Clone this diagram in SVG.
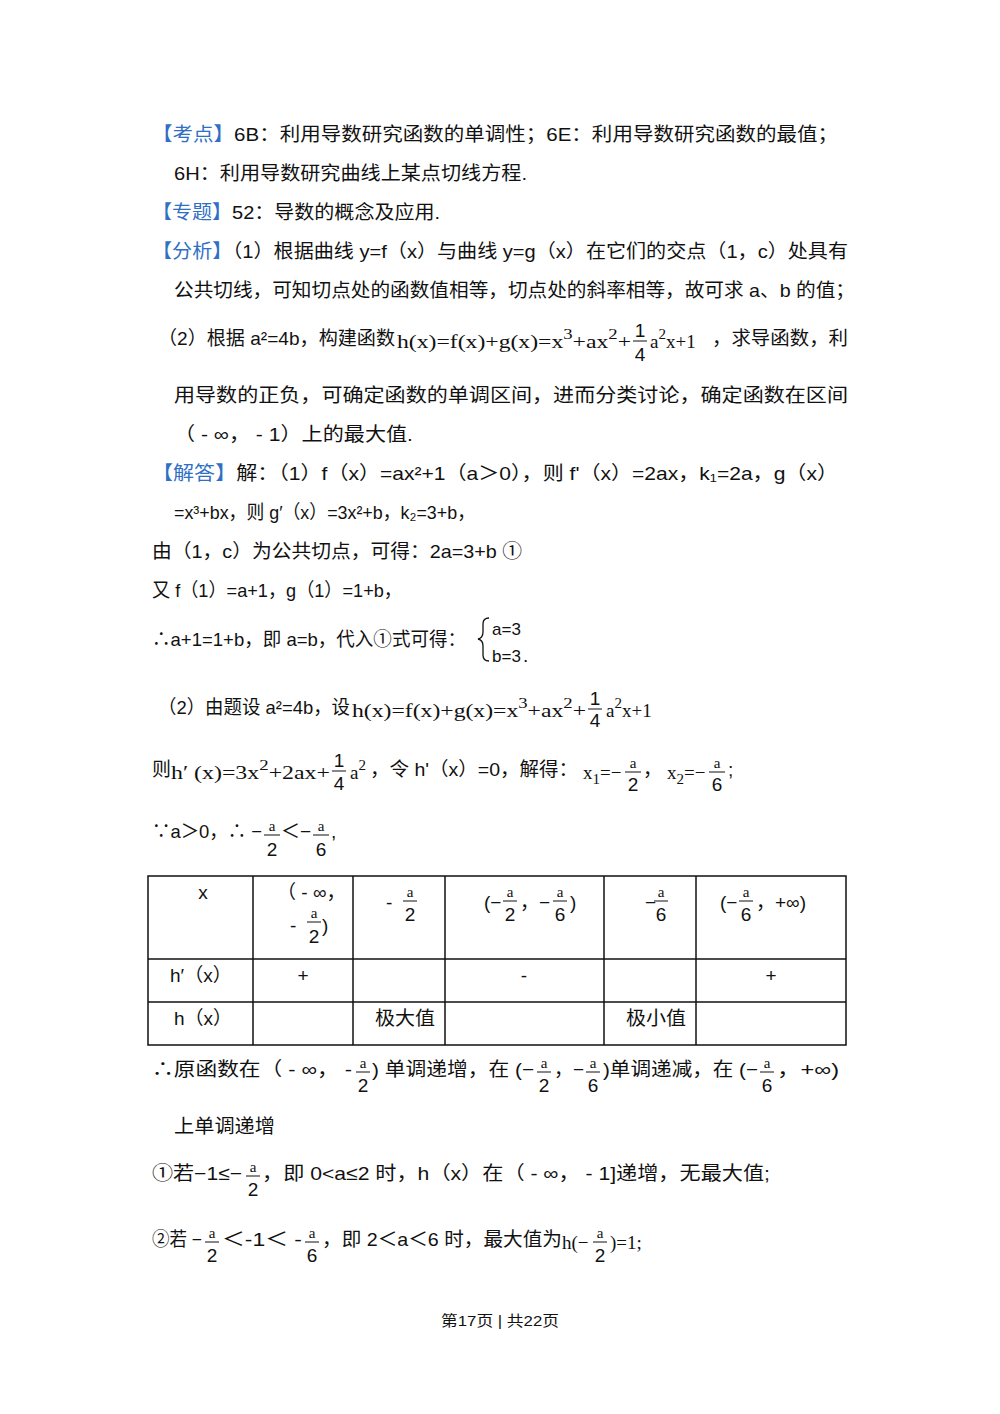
<svg xmlns="http://www.w3.org/2000/svg" width="1000" height="1414" viewBox="0 0 1000 1414">
<style>
text{font-family:"Liberation Sans","Noto Sans CJK SC",sans-serif;font-size:19px;fill:#111}
.b{fill:#2f6fc4}
.m{font-family:"Liberation Serif","Noto Sans CJK SC",serif;font-size:19px}
.s{font-size:15px;font-family:"Liberation Serif",serif}
.c{text-anchor:middle}
.fl{stroke:#111;stroke-width:1}
.tb{stroke:#111;stroke-width:1.5;fill:none}
</style>
<rect width="1000" height="1414" fill="#fff"/>
<text x="152" y="141" textLength="686" lengthAdjust="spacingAndGlyphs"><tspan class="b">【考点】</tspan>6B：利用导数研究函数的单调性；6E：利用导数研究函数的最值；</text>
<text x="174" y="180" textLength="353" lengthAdjust="spacingAndGlyphs">6H：利用导数研究曲线上某点切线方程.</text>
<text x="152" y="219" textLength="288" lengthAdjust="spacingAndGlyphs"><tspan class="b">【专题】</tspan>52：导数的概念及应用.</text>
<text x="152" y="258" textLength="696" lengthAdjust="spacingAndGlyphs"><tspan class="b">【分析】</tspan>（1）根据曲线 y=f（x）与曲线 y=g（x）在它们的交点（1，c）处具有</text>
<text x="174" y="297" textLength="681" lengthAdjust="spacingAndGlyphs">公共切线，可知切点处的函数值相等，切点处的斜率相等，故可求 a、b 的值；</text>
<text x="158" y="345" textLength="237" lengthAdjust="spacingAndGlyphs">（2）根据 a²=4b，构建函数</text>
<text x="397" y="348" class="m" textLength="234" lengthAdjust="spacingAndGlyphs">h(x)=f(x)+g(x)=x<tspan class="s" dy="-9">3</tspan><tspan dy="9">+ax</tspan><tspan class="s" dy="-9">2</tspan><tspan dy="9">+</tspan></text>
<text x="640" y="337" class="c">1</text><line x1="633" y1="341" x2="647" y2="341" class="fl"/><text x="640" y="361" class="c">4</text>
<text x="650" y="348" class="m">a<tspan class="s" dy="-9">2</tspan><tspan dy="9">x+1</tspan></text>
<text x="712" y="345" textLength="136" lengthAdjust="spacingAndGlyphs">，求导函数，利</text>
<text x="174" y="402" textLength="674" lengthAdjust="spacingAndGlyphs">用导数的正负，可确定函数的单调区间，进而分类讨论，确定函数在区间</text>
<text x="174" y="441" textLength="239" lengthAdjust="spacingAndGlyphs">（ - ∞， - 1）上的最大值.</text>
<text x="152" y="480" textLength="686" lengthAdjust="spacingAndGlyphs"><tspan class="b">【解答】</tspan>解：（1）f（x）=ax²+1（a＞0），则 f'（x）=2ax，k₁=2a，g（x）</text>
<text x="174" y="519" textLength="301" lengthAdjust="spacingAndGlyphs">=x³+bx，则 g′（x）=3x²+b，k₂=3+b，</text>
<text x="152" y="558" textLength="370" lengthAdjust="spacingAndGlyphs">由（1，c）为公共切点，可得：2a=3+b ①</text>
<text x="152" y="597" textLength="250" lengthAdjust="spacingAndGlyphs">又 f（1）=a+1，g（1）=1+b，</text>
<text x="152" y="646" textLength="314" lengthAdjust="spacingAndGlyphs">∴a+1=1+b，即 a=b，代入①式可得：</text>
<path d="M489 618 Q483 618 483 624 L483 632 Q483 638 478 639 Q483 640 483 646 L483 655 Q483 661 489 661" fill="none" stroke="#111" stroke-width="1.3"/>
<text x="492" y="635" style="font-size:17px">a=3</text><text x="492" y="662" style="font-size:17px">b=3</text><text x="523" y="662">.</text>
<text x="158" y="714" textLength="192" lengthAdjust="spacingAndGlyphs">（2）由题设 a²=4b，设</text>
<text x="352" y="717" class="m" textLength="234" lengthAdjust="spacingAndGlyphs">h(x)=f(x)+g(x)=x<tspan class="s" dy="-9">3</tspan><tspan dy="9">+ax</tspan><tspan class="s" dy="-9">2</tspan><tspan dy="9">+</tspan></text>
<text x="595" y="705" class="c">1</text><line x1="588" y1="709" x2="602" y2="709" class="fl"/><text x="595" y="727" class="c">4</text>
<text x="606" y="717" class="m">a<tspan class="s" dy="-9">2</tspan><tspan dy="9">x+1</tspan></text>
<text x="152" y="776">则</text>
<text x="171" y="779" class="m" textLength="159" lengthAdjust="spacingAndGlyphs">h′ (x)=3x<tspan class="s" dy="-9">2</tspan><tspan dy="9">+2ax+</tspan></text>
<text x="339" y="767" class="c">1</text><line x1="332" y1="771" x2="346" y2="771" class="fl"/><text x="339" y="790" class="c">4</text>
<text x="350" y="779" class="m">a<tspan class="s" dy="-9">2</tspan></text>
<text x="370" y="776" textLength="208" lengthAdjust="spacingAndGlyphs">，令 h'（x）=0，解得：</text>
<text x="583" y="779" class="m">x<tspan class="s" dy="5">1</tspan><tspan dy="-5">=−</tspan></text>
<text x="633" y="768" class="c s">a</text><line x1="625" y1="772" x2="641" y2="772" class="fl"/><text x="633" y="791" class="c">2</text>
<text x="643" y="776">，</text>
<text x="667" y="779" class="m">x<tspan class="s" dy="5">2</tspan><tspan dy="-5">=−</tspan></text>
<text x="717" y="768" class="c s">a</text><line x1="709" y1="772" x2="725" y2="772" class="fl"/><text x="717" y="791" class="c">6</text>
<text x="728" y="776">;</text>
<text x="152" y="838" textLength="110" lengthAdjust="spacingAndGlyphs">∵a＞0，∴ −</text>
<text x="272" y="831" class="c s">a</text><line x1="264" y1="835" x2="280" y2="835" class="fl"/><text x="272" y="856" class="c">2</text>
<text x="281" y="838">＜−</text>
<text x="321" y="831" class="c s">a</text><line x1="313" y1="835" x2="329" y2="835" class="fl"/><text x="321" y="856" class="c">6</text>
<text x="331" y="838">,</text>
<g id="table">
<rect x="148" y="876" width="698" height="169" class="tb"/>
<line x1="148" y1="959" x2="846" y2="959" class="tb"/><line x1="148" y1="1002" x2="846" y2="1002" class="tb"/>
<line x1="253" y1="876" x2="253" y2="1045" class="tb"/><line x1="353" y1="876" x2="353" y2="1045" class="tb"/>
<line x1="445" y1="876" x2="445" y2="1045" class="tb"/><line x1="604" y1="876" x2="604" y2="1045" class="tb"/>
<line x1="696" y1="876" x2="696" y2="1045" class="tb"/>
<text x="203" y="899" class="c">x</text>
<text x="277" y="899">（ - ∞，</text>
<text x="290" y="932">-</text><text x="314" y="918" class="c s">a</text><line x1="307" y1="922" x2="321" y2="922" class="fl"/><text x="314" y="943" class="c">2</text><text x="322" y="932">)</text>
<text x="386" y="909">-</text><text x="410" y="897" class="c s">a</text><line x1="403" y1="901" x2="417" y2="901" class="fl"/><text x="410" y="921" class="c">2</text>
<text x="484" y="909">(−</text><text x="510" y="897" class="c s">a</text><line x1="503" y1="901" x2="517" y2="901" class="fl"/><text x="510" y="921" class="c">2</text>
<text x="520" y="909">，−</text><text x="560" y="897" class="c s">a</text><line x1="553" y1="901" x2="567" y2="901" class="fl"/><text x="560" y="921" class="c">6</text><text x="570" y="909">)</text>
<text x="645" y="909">−</text><text x="661" y="897" class="c s">a</text><line x1="654" y1="901" x2="668" y2="901" class="fl"/><text x="661" y="921" class="c">6</text>
<text x="720" y="909">(−</text><text x="746" y="897" class="c s">a</text><line x1="739" y1="901" x2="753" y2="901" class="fl"/><text x="746" y="921" class="c">6</text><text x="756" y="909">，+∞)</text>
<text x="170" y="982">h′（x）</text>
<text x="303" y="982" class="c">+</text><text x="524" y="982" class="c">-</text><text x="771" y="982" class="c">+</text>
<text x="174" y="1025">h（x）</text>
<text x="375" y="1025" textLength="60" lengthAdjust="spacingAndGlyphs">极大值</text><text x="626" y="1025" textLength="60" lengthAdjust="spacingAndGlyphs">极小值</text>
</g>
<text x="152" y="1076" textLength="200" lengthAdjust="spacingAndGlyphs">∴原函数在（ - ∞， -</text>
<text x="363" y="1068" class="c s">a</text><line x1="356" y1="1072" x2="370" y2="1072" class="fl"/><text x="363" y="1092" class="c">2</text>
<text x="372" y="1076" textLength="162" lengthAdjust="spacingAndGlyphs">) 单调递增，在 (−</text>
<text x="544" y="1068" class="c s">a</text><line x1="537" y1="1072" x2="551" y2="1072" class="fl"/><text x="544" y="1092" class="c">2</text>
<text x="554" y="1076">，−</text>
<text x="593" y="1068" class="c s">a</text><line x1="586" y1="1072" x2="600" y2="1072" class="fl"/><text x="593" y="1092" class="c">6</text>
<text x="603" y="1076" textLength="155" lengthAdjust="spacingAndGlyphs">)单调递减，在 (−</text>
<text x="767" y="1068" class="c s">a</text><line x1="760" y1="1072" x2="774" y2="1072" class="fl"/><text x="767" y="1092" class="c">6</text>
<text x="777" y="1076" textLength="62" lengthAdjust="spacingAndGlyphs">，+∞)</text>
<text x="174" y="1133" textLength="101" lengthAdjust="spacingAndGlyphs">上单调递增</text>
<text x="152" y="1180" textLength="90" lengthAdjust="spacingAndGlyphs">①若−1≤−</text>
<text x="253" y="1172" class="c s">a</text><line x1="246" y1="1176" x2="260" y2="1176" class="fl"/><text x="253" y="1196" class="c">2</text>
<text x="262" y="1180" textLength="508" lengthAdjust="spacingAndGlyphs">，即 0&lt;a≤2 时，h（x）在（ - ∞， - 1]递增，无最大值;</text>
<text x="152" y="1246" textLength="50" lengthAdjust="spacingAndGlyphs">②若 −</text>
<text x="212" y="1238" class="c s">a</text><line x1="205" y1="1242" x2="219" y2="1242" class="fl"/><text x="212" y="1262" class="c">2</text>
<text x="222" y="1246" textLength="80" lengthAdjust="spacingAndGlyphs">＜-1＜ -</text>
<text x="312" y="1238" class="c s">a</text><line x1="305" y1="1242" x2="319" y2="1242" class="fl"/><text x="312" y="1262" class="c">6</text>
<text x="322" y="1246" textLength="240" lengthAdjust="spacingAndGlyphs">，即 2＜a＜6 时，最大值为</text>
<text x="562" y="1249" class="m">h(−</text>
<text x="600" y="1238" class="c s">a</text><line x1="593" y1="1242" x2="607" y2="1242" class="fl"/><text x="600" y="1262" class="c">2</text>
<text x="610" y="1249" class="m">)=1;</text>
<text x="441" y="1326" style="font-size:15px" textLength="118" lengthAdjust="spacingAndGlyphs">第17页  | 共22页</text>
</svg>
